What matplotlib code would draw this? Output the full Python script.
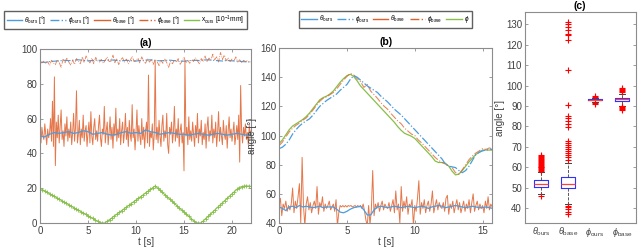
import numpy as np
import matplotlib
matplotlib.use('Agg')
import matplotlib.pyplot as plt

plt.rcParams['font.family'] = ['Liberation Sans', 'DejaVu Sans']
plt.rcParams['mathtext.fontset'] = 'custom'
plt.rcParams['mathtext.rm'] = 'Liberation Sans'
plt.rcParams['mathtext.it'] = 'Liberation Sans:italic'

BLUE = '#4a9de0'
ORANGE = '#e0602c'
GREEN = '#86c04a'
AXC = '#8c8c8c'
TXT = '#404040'

# ---------------- panel (a) data ----------------
t_a_fast = np.arange(221) * 0.1
theta_base_a = [
    53, 46, 55, 50, 48, 57, 51, 45, 54, 49,
    52, 60, 47, 70, 44, 84, 33, 58, 49, 62,
    46, 55, 65, 48, 53, 44, 57, 50, 61, 47,
    54, 49, 58, 45, 52, 63, 47, 55, 76, 46,
    51, 59, 45, 54, 49, 62, 47, 53, 56, 44,
    52, 58, 46, 64, 50, 45, 55, 60, 48, 53,
    47, 56, 62, 49, 44, 54, 51, 67, 46, 53,
    58, 45, 52, 61, 48, 55, 43, 57, 50, 66,
    47, 54, 49, 60, 45, 53, 58, 46, 52, 63,
    48, 55, 44, 59, 51, 47, 68, 49, 54, 42,
    52, 65, 47, 56, 50, 45, 60, 48, 55, 43,
    53, 58, 46, 85, 44, 52, 49, 57, 42, 51,
    93, 48, 55, 46, 59, 50, 44, 56, 62, 47,
    53, 49, 63, 45, 40, 55, 51, 58, 46, 52,
    67, 47, 54, 49, 60, 44, 53, 57, 46, 52,
    30, 93, 50, 55, 45, 61, 48, 53, 47, 58,
    51, 44, 56, 49, 63, 46, 54, 50, 59, 45,
    52, 48, 57, 43, 55, 61, 47, 53, 50, 62,
    46, 54, 49, 58, 44, 52, 64, 47, 55, 50,
    45, 59, 51, 48, 56, 43, 53, 61, 49, 54,
    47, 52, 58, 45, 50, 56, 48, 62, 35, 79,
    53, 46, 55, 50, 57, 48, 52, 45, 56, 51,
    53]

t_a_slow = np.arange(45) * 0.5
theta_ours_a = [
    50, 49.5, 51, 52, 51.5, 52, 52.5, 51.5, 52, 53,
    52.5, 51, 51.5, 52, 51, 50.5, 51, 52, 52.5, 51.5,
    52, 51.5, 53.5, 52.5, 52, 51, 51.5, 52, 51.5, 51,
    51, 50.5, 51, 51.5, 51, 50.5, 51, 51.5, 51, 50.5,
    51, 51.5, 51, 50.5, 51]
phi_ours_a = [
    92.5, 92.3, 92.8, 93, 93.2, 93.5, 93.3, 93.6, 93.8, 93.5,
    93.2, 93.4, 93.6, 93.3, 93.5, 93.7, 93.4, 93.2, 93.5, 93.3,
    93.1, 93.4, 93.6, 93.8, 93.5, 93.2, 93.4, 93.6, 93.3, 93.1,
    93.0, 93.3, 93.5, 93.4, 93.6, 93.8, 93.5, 93.3, 93.1, 93.4,
    93.2, 93.0, 92.8, 92.6, 92.5]

t_a_mid = np.arange(111) * 0.2
phi_base_a = [
    92.5, 92, 93, 91.5, 92.8, 90.5, 93.5, 92, 91, 93.8,
    92.2, 89.5, 94, 91.8, 95, 92.5, 90.8, 93.6, 91.2, 94.5,
    93, 91.5, 95.5, 92.2, 96, 93.8, 92, 94.8, 91.5, 95.2,
    93.2, 92.5, 94, 91.8, 93.5, 95.5, 92.8, 93, 96.5, 92.2,
    94.5, 91, 93.8, 95, 92.5, 94.2, 91.5, 93.5, 95.8, 92.8,
    93.2, 94.8, 92, 95.5, 93, 91.8, 94.5, 92.5, 93.8, 91.2,
    94, 92.8, 90.5, 93.5, 91.8, 94.2, 92.2, 89.5, 93, 91.5,
    93.8, 92.5, 94.5, 91.2, 93, 95.2, 92, 93.5, 91.8, 94,
    92.8, 95, 93.2, 91.5, 94.5, 93, 96, 92.5, 94.8, 93.5,
    97, 93.8, 95.5, 92.5, 98, 94, 96.5, 93.2, 95, 92.8,
    94.2, 93, 95.5, 92.5, 93.8, 92.2, 93.5, 92.8, 93.2, 92.5,
    92.6]

t_a_x = np.arange(89) * 0.25
x_ours_a = [
    20, 19.2, 18.4, 17.6, 16.8, 16.0, 15.3, 14.5, 13.7, 12.9,
    12.1, 11.3, 10.5, 9.7, 8.9, 8.1, 7.4, 6.6, 5.8, 5.0,
    4.2, 3.4, 2.6, 1.8, 1.0, 0.2, 0, 0,
    1.0, 2.0, 3.0, 4.1, 5.1, 6.1, 7.1, 8.1, 9.1, 10.1,
    11.2, 12.2, 13.2, 14.2, 15.2, 16.2, 17.3, 18.3, 19.3, 20.3, 21.3,
    20.1, 18.8, 17.6, 16.3, 15.1, 13.8, 12.5, 11.3, 10.0, 8.8,
    7.5, 6.3, 5.0, 3.8, 2.5, 1.3, 0.1, 0, 0,
    1.2, 2.5, 3.8, 5.1, 6.4, 7.7, 9.0, 10.3, 11.6, 12.9,
    14.2, 15.5, 16.8, 18.0, 19.3, 20.4,
    20.9, 21.2, 21.3, 21.2, 21.0]

# ---------------- panel (b) data ----------------
t_b_fast = np.arange(158) * 0.1
theta_base_b = [
    52, 57, 45, 53, 50, 55, 48, 52, 49, 53,
    64, 47, 55, 50, 58, 67, 40, 85, 52, 38,
    53, 58, 49, 54, 47, 52, 55, 50, 65, 46,
    54, 51, 58, 48, 53, 50, 52, 55, 49, 51,
    53, 48, 56, 38, 47, 52, 51, 52, 51, 52,
    51, 52, 51.5, 52, 51, 51.5, 52, 51, 52, 51,
    52, 50, 53, 48, 42, 38, 52, 39, 49, 76,
    45, 53, 50, 54, 48, 52, 55, 49, 53, 51,
    50, 54, 48, 52, 56, 47, 62, 49, 53, 40,
    65, 48, 55, 50, 58, 46, 53, 51, 56, 38,
    52, 48, 57, 69, 46, 54, 50, 56, 47, 52,
    55, 48, 53, 62, 47, 52, 56, 49, 54, 51,
    50, 54, 48, 57, 59, 46, 53, 50, 55, 47,
    52, 56, 49, 54, 47, 51, 55, 48, 53, 50,
    56, 47, 54, 60, 48, 52, 55, 49, 53, 50,
    52, 47, 55, 50, 58, 49, 53, 51]

t_b_slow = np.arange(64) * 0.25
theta_ours_b = [
    51, 50, 48.5, 51, 51.5, 50.5, 52, 51, 51.5, 51,
    50.5, 51, 51.5, 50.5, 51, 51, 51, 49.5, 47.5, 47,
    48, 49.5, 50.5, 51, 51.5, 49, 45.5, 45.5, 49, 51,
    51.5, 51, 50.5, 51, 51.5, 51, 50.5, 51, 51.5, 51,
    50.5, 51, 51.5, 51, 50, 51, 51.5, 52, 51.5, 50.5,
    51, 51.5, 52, 51.5, 51, 50.5, 51, 51.5, 51, 50.5,
    50.5, 51, 50.5, 50]
phi_ours_b = [
    91, 92, 94, 97, 101, 104, 106.5, 108.5, 110, 111.5,
    114, 117, 120, 122, 124, 125.5, 127, 128.5, 131, 133,
    135, 138.5, 141, 140, 138, 136, 134, 132.5, 131, 129.5,
    127, 125, 123, 120.5, 118, 116, 114, 111.5, 109, 106.5,
    104, 101.5, 99, 96.5, 94, 91.5, 89, 86.5, 84, 80.5,
    79, 78.5, 78, 76, 74.5, 76, 79, 83, 87, 88.5,
    89.5, 90, 90.5, 90.5]
phi_base_b = [
    93, 95.5, 99, 102.5, 105, 107, 108.5, 110.5, 112, 114.5,
    117.5, 120.5, 123.5, 125.5, 126.5, 128, 129.5, 132, 135, 138,
    140.5, 142.5, 141.5, 139, 137, 133, 135, 130.5, 128, 125.5,
    122.5, 120, 118, 115, 112.5, 110, 108, 105, 103, 101,
    100, 97, 95, 92.5, 90, 87.5, 85, 83, 81.5, 80.5,
    79, 78, 74.5, 73.5, 76.5, 80, 83.5, 86, 88, 89.5,
    91, 90.5, 91.5, 90.5]
phi_gt_b = [
    94.5, 97, 100.5, 104, 106.5, 108, 109.5, 111, 113, 115.5,
    118.5, 121.5, 124.5, 126, 127, 128.5, 130.5, 133.5, 136.5, 139,
    141, 142, 140.5, 137.5, 134, 131.5, 129, 126.5, 124, 121.5,
    119, 116.5, 114, 111.5, 109, 106, 103.5, 101.5, 100.5, 99.5,
    98, 95.5, 93, 90.5, 88, 85.5, 82.5, 81.5, 81.5, 81,
    79, 75.5, 73, 73.5, 76, 79, 82, 84.5, 87, 88.5,
    90, 90, 90, 90]

# ---------------- panel (c) data ----------------
box_labels = [r'$\theta_{\rm ours}$', r'$\theta_{\rm base}$',
              r'$\phi_{\rm ours}$', r'$\phi_{\rm base}$']
box_med = [51.7, 51.8, 93.0, 93.2]
box_q1 = [50.4, 49.6, 92.7, 92.3]
box_q3 = [53.7, 55.0, 93.3, 94.0]
box_lo = [46.7, 42.0, 92.0, 90.0]
box_hi = [57.6, 62.3, 94.0, 96.0]
box_fliers = [
    [46.0, 58.2, 58.6, 59, 59.5, 60, 60.3, 60.8, 61.2, 61.5, 62, 62.5,
     63, 63.4, 64, 64.5, 65, 65.5, 66],
    [37, 38, 39.5, 40.5, 41, 63.5, 65, 66, 67, 68, 69, 70, 71, 72, 73,
     79.5, 81, 82.5, 84, 85, 90.5, 107.5, 122.5, 124.5, 125, 127, 128.5,
     130, 131],
    [91, 91.5, 94.5, 95],
    [88, 88.5, 89, 89.5, 89.8, 97, 97.5, 98, 98.5, 99]]


def style_axes(ax):
    for s in ax.spines.values():
        s.set_color(AXC)
        s.set_linewidth(0.8)
    ax.tick_params(direction='in', length=2.5, width=0.6, color=AXC,
                   labelsize=7, labelcolor=TXT, top=True, right=True, pad=2)


def legend_handles():
    return [plt.Line2D([], [], color=BLUE, lw=1.0),
            plt.Line2D([], [], color=BLUE, lw=1.0, ls='-.'),
            plt.Line2D([], [], color=ORANGE, lw=1.0),
            plt.Line2D([], [], color=ORANGE, lw=1.0, ls='-.'),
            plt.Line2D([], [], color=GREEN, lw=1.0)]


leg_kw = dict(loc='center', ncol=5, fontsize=4.7, handlelength=2.4,
              handletextpad=0.3, columnspacing=0.6, borderpad=0.4,
              frameon=True, fancybox=False, edgecolor='#606060', framealpha=1)

fig = plt.figure(figsize=(6.4, 2.49), dpi=100)

# (a)
ax1 = fig.add_axes([0.0625, 0.1044, 0.330, 0.6988])
ax1.plot(t_a_slow, phi_ours_a, '-.', color=BLUE, lw=0.8)
ax1.plot(t_a_mid, phi_base_a, '-.', color=ORANGE, lw=0.6, alpha=0.8)
ax1.plot(t_a_fast, theta_base_a, '-', color=ORANGE, lw=0.7, alpha=0.85)
ax1.plot(t_a_slow, theta_ours_a, '-', color=BLUE, lw=0.9)
ax1.plot(t_a_x, x_ours_a, '-+', color=GREEN, lw=0.8, ms=2.5, mew=0.6)
ax1.set_xlim(0, 22)
ax1.set_ylim(0, 100)
ax1.set_xticks([0, 5, 10, 15, 20])
ax1.set_yticks([0, 20, 40, 60, 80, 100])
ax1.set_xlabel('t [s]', fontsize=7, color=TXT, labelpad=1)
ax1.set_title('(a)', fontsize=7.5, fontweight='bold', pad=2)
style_axes(ax1)

fig.legend(legend_handles(),
           [r'$\theta_{\rm ours}$ [°]', r'$\phi_{\rm ours}$ [°]',
            r'$\theta_{\rm base}$ [°]', r'$\phi_{\rm base}$ [°]',
            r'x$_{\rm ours}$ [10$^{-1}$mm]'],
           bbox_to_anchor=(0.196, 0.92), **leg_kw)

# (b)
ax2 = fig.add_axes([0.436, 0.1044, 0.333, 0.7028])
ax2.plot(t_b_fast, theta_base_b, '-', color=ORANGE, lw=0.7, alpha=0.85)
ax2.plot(t_b_slow, theta_ours_b, '-', color=BLUE, lw=0.9)
ax2.plot(t_b_slow, phi_gt_b, '-', color=GREEN, lw=0.9)
ax2.plot(t_b_slow, phi_base_b, '-.', color=ORANGE, lw=0.8, alpha=0.75)
ax2.plot(t_b_slow, phi_ours_b, '-.', color=BLUE, lw=0.9)
ax2.set_xlim(0, 15.7)
ax2.set_ylim(40, 160)
ax2.set_xticks([0, 5, 10, 15])
ax2.set_yticks([40, 60, 80, 100, 120, 140, 160])
ax2.set_xlabel('t [s]', fontsize=7, color=TXT, labelpad=1)
ax2.set_ylabel('angle [°]', fontsize=7, color=TXT, labelpad=2)
ax2.set_title('(b)', fontsize=7.5, fontweight='bold', pad=2)
style_axes(ax2)

fig.legend(legend_handles(),
           [r'$\theta_{\rm ours}$', r'$\phi_{\rm ours}$',
            r'$\theta_{\rm base}$', r'$\phi_{\rm base}$', r'$\phi$'],
           bbox_to_anchor=(0.602, 0.922), **leg_kw)

# (c)
ax3 = fig.add_axes([0.820, 0.1044, 0.173, 0.8474])
stats = []
for i in range(4):
    stats.append(dict(med=box_med[i], q1=box_q1[i], q3=box_q3[i],
                      whislo=box_lo[i], whishi=box_hi[i],
                      fliers=box_fliers[i], label=box_labels[i]))
ax3.bxp(stats, positions=[1, 2, 3, 4], widths=0.5,
        boxprops=dict(color='#3030ff', lw=0.8),
        medianprops=dict(color='#ff4040', lw=0.9),
        whiskerprops=dict(color='#404040', lw=0.6, ls='--'),
        capprops=dict(color='#404040', lw=0.7),
        flierprops=dict(marker='+', markeredgecolor='red', ms=4, mew=0.8,
                        ls='none'))
ax3.set_xlim(0.4, 4.5)
ax3.set_ylim(32.7, 136)
ax3.set_yticks([40, 50, 60, 70, 80, 90, 100, 110, 120, 130])
ax3.set_ylabel('angle [°]', fontsize=7, color=TXT, labelpad=1)
ax3.set_title('(c)', fontsize=7.5, fontweight='bold', pad=2)
style_axes(ax3)
ax3.tick_params(axis='x', length=0, labelsize=6.5)

fig.savefig('out.png', dpi=100)
